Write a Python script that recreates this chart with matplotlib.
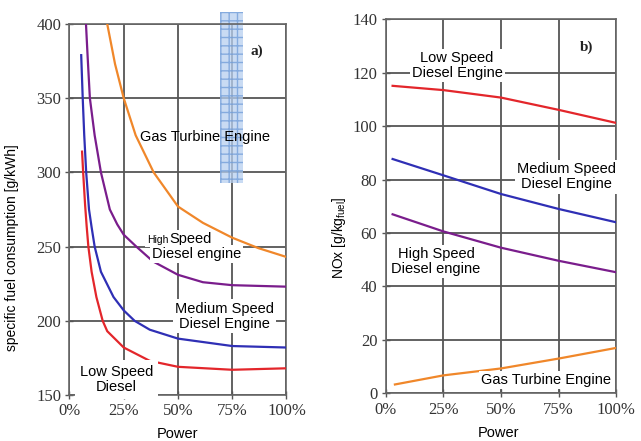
import matplotlib
matplotlib.use("Agg")
import matplotlib.pyplot as plt
from matplotlib.patches import Rectangle

# ---------------- data ----------------
power_ticks = [0, 25, 50, 75, 100]
power_ticklabels = ["0%", "25%", "50%", "75%", "100%"]

# (a) specific fuel consumption [g/kWh]
sfc_low_x = [5.8, 6.3, 7.2, 7.9, 8.7, 10.2, 12.4, 15.3, 17.4, 25, 37, 50, 75, 100]
sfc_low_y = [314, 300, 278, 264, 250, 233, 216, 200, 193, 182, 173, 169, 167, 168]
sfc_med_x = [5.4, 6.1, 6.8, 7.7, 9.0, 10.2, 11.6, 14.5, 20.3, 25, 30, 37, 50, 75, 100]
sfc_med_y = [379, 350, 325, 300, 275, 263, 250, 233, 216, 207, 200, 194, 188, 183, 182]
sfc_high_x = [7.6, 8.4, 9.4, 11.6, 14.5, 18.6, 22, 25, 30.8, 38.5, 50, 61.5, 75, 100]
sfc_high_y = [400, 377, 350, 325, 300, 275, 265, 258, 250, 240, 231, 226, 224, 223]
sfc_gas_x = [17.4, 21, 25, 30.5, 38.8, 50, 61.5, 75, 87, 100]
sfc_gas_y = [400, 373, 350, 325, 300, 277, 266, 256, 249, 243]
sfc_yticks = [150, 200, 250, 300, 350, 400]

# (b) NOx [g/kg fuel]
nox_x = [3, 25, 50, 75, 100]
nox_gas_x = [4, 25, 50, 75, 100]
nox_low = [115.1, 113.5, 110.7, 106.1, 101.2]
nox_med = [87.7, 81.6, 74.6, 69.0, 64.0]
nox_high = [67.0, 60.6, 54.5, 49.6, 45.3]
nox_gas = [3.3, 6.7, 9.3, 13.0, 17.0]
nox_yticks = [0, 20, 40, 60, 80, 100, 120, 140]

# ---------------- styles ----------------
RED = "#e3262b"
BLUE = "#2f2fb5"
PURPLE = "#7a1d8c"
ORANGE = "#f0872a"
GRID = "#555555"
TICKC = "#333333"
SERIF = ["Liberation Serif", "DejaVu Serif"]
SANS = ["Liberation Sans", "DejaVu Sans"]

# serif is the default (tick labels); every other text names the sans family
plt.rcParams["font.family"] = SERIF
plt.rcParams["mathtext.fontset"] = "custom"
plt.rcParams["mathtext.rm"] = "Liberation Sans"
plt.rcParams["mathtext.it"] = "Liberation Sans:italic"
plt.rcParams["mathtext.bf"] = "Liberation Sans:bold"
plt.rcParams["mathtext.default"] = "rm"

fig = plt.figure(figsize=(6.41, 4.41), dpi=100)
axL = fig.add_axes([0.1084, 0.1043, 0.3385, 0.8413])
axR = fig.add_axes([0.6017, 0.1082, 0.3598, 0.8480])

def style(ax, yticks, ylim):
    ax.set_xlim(0, 100)
    ax.set_ylim(*ylim)
    ax.set_xticks(power_ticks)
    ax.set_xticklabels(power_ticklabels)
    ax.set_yticks(yticks)
    ax.grid(True, color=GRID, lw=1.3, zorder=0)
    ax.set_axisbelow(True)
    for s in ax.spines.values():
        s.set_color("#666666")
        s.set_linewidth(1.2)
    ax.tick_params(direction="inout", length=6, width=1.0, color="#555555",
                   labelcolor=TICKC, pad=3, labelsize=12)

style(axL, sfc_yticks, (150, 400))
style(axR, nox_yticks, (0, 140))

lw = 1.6
# ---------- panel (a) ----------
axL.add_patch(Rectangle((69.4, 292.9), 10.6, 115.2, facecolor="#b7cff0",
                        edgecolor="#6f9bd8", hatch="++", lw=0.0, alpha=0.75,
                        clip_on=False, zorder=2))
axL.plot(sfc_low_x, sfc_low_y, color=RED, lw=lw, zorder=4)
axL.plot(sfc_med_x, sfc_med_y, color=BLUE, lw=lw, zorder=4)
axL.plot(sfc_high_x, sfc_high_y, color=PURPLE, lw=lw, zorder=4)
axL.plot(sfc_gas_x, sfc_gas_y, color=ORANGE, lw=lw, zorder=4)

box = dict(facecolor="white", edgecolor="none", pad=1.5)
fs = 10.5
axL.text(62.4, 324, "Gas Turbine Engine", ha="center", va="center", fontsize=fs,
         family=SANS, zorder=5)
axL.text(45.6, 252.2, "High", ha="right", va="baseline", fontsize=7.5, family=SANS,
         zorder=5, bbox=box)
axL.text(46.2, 252.2, "Speed", ha="left", va="baseline", fontsize=fs, family=SANS,
         zorder=5, bbox=box)
axL.text(58.6, 245, "Diesel engine", ha="center", va="center", fontsize=fs, family=SANS,
         zorder=5, bbox=box)
axL.text(71.6, 203.2, "Medium Speed\nDiesel Engine", ha="center", va="center",
         fontsize=fs, family=SANS, linespacing=1.1, zorder=5, bbox=box)
axL.text(21.6, 160.6, "Low Speed\nDiesel", ha="center", va="center", fontsize=fs,
         family=SANS, linespacing=1.1, zorder=5,
         bbox=dict(facecolor="white", edgecolor="none", boxstyle="square,pad=0.35"))
axL.text(86.2, 381.4, "a)", ha="center", va="center", fontsize=11, fontweight="bold",
         family=SERIF, color="#222222", zorder=5)

axL.set_ylabel("specific fuel consumption [g/kWh]", fontsize=10, family=SANS)
axL.yaxis.set_label_coords(-0.233, 0.398)
axL.set_xlabel("Power", fontsize=10.5, family=SANS)
axL.xaxis.set_label_coords(0.5, -0.086)

# ---------- panel (b) ----------
axR.plot(nox_x, nox_low, color=RED, lw=lw, zorder=4)
axR.plot(nox_x, nox_med, color=BLUE, lw=lw, zorder=4)
axR.plot(nox_x, nox_high, color=PURPLE, lw=lw, zorder=4)
axR.plot(nox_gas_x, nox_gas, color=ORANGE, lw=lw, zorder=4)

axR.text(31.0, 122.7, "Low Speed\nDiesel Engine", ha="center", va="center", fontsize=fs,
         family=SANS, linespacing=1.1, zorder=5, bbox=box)
axR.text(78.5, 81.0, "Medium Speed\nDiesel Engine", ha="center", va="center", fontsize=fs,
         family=SANS, linespacing=1.1, zorder=5, bbox=box)
axR.text(21.8, 49.2, "High Speed\nDiesel engine", ha="center", va="center", fontsize=fs,
         family=SANS, linespacing=1.1, zorder=5, bbox=box)
axR.text(69.7, 5.0, "Gas Turbine Engine", ha="center", va="center", fontsize=fs,
         family=SANS, zorder=5, bbox=box)
axR.text(87.1, 129.7, "b)", ha="center", va="center", fontsize=11, fontweight="bold",
         family=SERIF, color="#222222", zorder=5)

axR.set_ylabel(r"NOx [g/kg$_{\mathrm{fuel}}$]", fontsize=10, family=SANS)
axR.yaxis.set_label_coords(-0.163, 0.417)
axR.set_xlabel("Power", fontsize=10.5, family=SANS)
axR.xaxis.set_label_coords(0.487, -0.088)

fig.savefig("out.png", dpi=100)
